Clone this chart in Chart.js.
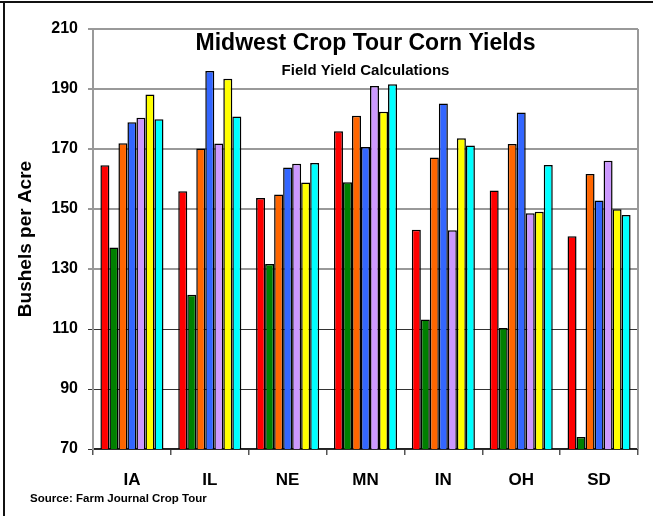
<!DOCTYPE html>
<html>
<head>
<meta charset="utf-8">
<script src="https://cdn.jsdelivr.net/npm/chart.js@4/dist/chart.umd.min.js"></script>
<style>
  body { margin: 0; background: #fff; }
  #wrap { width: 653px; height: 516px; }
</style>
</head>
<body>
<div id="wrap"><canvas id="crop" width="653" height="516"></canvas></div>
<script>
const states = ["IA", "IL", "NE", "MN", "IN", "OH", "SD"];
const red = [164.6, 155.9, 153.7, 175.9, 143.1, 156.2, 140.9];
const green = [137.2, 121.4, 131.7, 158.9, 113.2, 110.3, 74.0];
const orange = [171.9, 170.2, 154.8, 181.1, 167.2, 171.7, 161.7];
const blue = [178.9, 196.0, 163.8, 170.7, 185.2, 182.2, 152.8];
const purple = [180.4, 171.8, 165.1, 191.0, 142.9, 148.6, 166.1];
const yellow = [188.2, 193.4, 158.8, 182.4, 173.6, 149.1, 149.9];
const cyan = [179.9, 180.8, 165.3, 191.6, 171.2, 164.7, 148.0];

const FONT = "'Liberation Sans', Arial, sans-serif";

function bars(label, data, color) {
  return {
    label: label,
    data: data,
    backgroundColor: color,
    borderColor: "#000",
    borderWidth: 1.5,
    borderSkipped: "bottom",
    categoryPercentage: 0.81,
    barPercentage: 1.0,
  };
}

// title, subtitle, axis title, source and the frame lines
const extras = {
  id: "extras",
  beforeDraw(chart) {
    const c = chart.ctx;
    c.save();
    c.fillStyle = "#fff";
    c.fillRect(0, 0, chart.width, chart.height);
    c.restore();
  },
  afterDraw(chart) {
    const c = chart.ctx;
    const a = chart.chartArea;
    c.save();
    c.fillStyle = "#111";
    c.fillRect(0, 1, chart.width, 2);
    c.fillRect(3, 1, 2, chart.height);

    c.strokeStyle = "#999";
    c.lineWidth = 2;
    c.beginPath();
    c.moveTo(a.right, a.top);
    c.lineTo(a.right, a.bottom);
    c.stroke();

    c.fillStyle = "#000";
    c.textAlign = "center";
    c.textBaseline = "alphabetic";
    c.font = "bold 23px " + FONT;
    c.fillText("Midwest Crop Tour Corn Yields", (a.left + a.right) / 2, 50);
    c.font = "bold 15px " + FONT;
    c.fillText("Field Yield Calculations", (a.left + a.right) / 2, 75);

    c.save();
    c.translate(31, 239);
    c.rotate(-Math.PI / 2);
    c.font = "bold 19px " + FONT;
    c.fillText("Bushels per Acre", 0, 0);
    c.restore();

    c.textAlign = "left";
    c.font = "bold 11.5px " + FONT;
    c.fillText("Source: Farm Journal Crop Tour", 30, 502);
    c.restore();
  },
};

new Chart(document.getElementById("crop"), {
  type: "bar",
  data: {
    labels: states,
    datasets: [
      bars("red", red, "#ff0000"),
      bars("green", green, "#008000"),
      bars("orange", orange, "#ff6600"),
      bars("blue", blue, "#3366ff"),
      bars("purple", purple, "#cc99ff"),
      bars("yellow", yellow, "#ffff00"),
      bars("cyan", cyan, "#00ffff"),
    ],
  },
  options: {
    responsive: false,
    animation: false,
    devicePixelRatio: 1,
    layout: { padding: { top: 29, right: 15, left: 0, bottom: 0 } },
    plugins: {
      legend: { display: false },
      title: { display: false },
      tooltip: { enabled: false },
    },
    scales: {
      x: {
        afterFit(scale) { scale.height = 67; },
        grid: {
          offset: true,
          drawOnChartArea: false,
          drawTicks: true,
          tickLength: 6,
          color: "#555",
          lineWidth: 1.5,
        },
        border: { color: "#222", width: 1.5 },
        ticks: {
          color: "#000",
          padding: 15,
          font: { family: FONT, size: 17, weight: "bold" },
        },
      },
      y: {
        min: 70,
        max: 210,
        afterFit(scale) { scale.width = 93; },
        grid: {
          tickLength: 5,
          color: (ctx) => (ctx.tick && ctx.tick.value >= 130 ? "#999" : "#333"),
          lineWidth: (ctx) => (ctx.tick && ctx.tick.value >= 130 ? 2 : 1),
        },
        border: { color: "#999", width: 2 },
        ticks: {
          stepSize: 20,
          color: "#000",
          padding: 10,
          font: { family: FONT, size: 16, weight: "bold" },
        },
      },
    },
  },
  plugins: [extras],
});
</script>
</body>
</html>
